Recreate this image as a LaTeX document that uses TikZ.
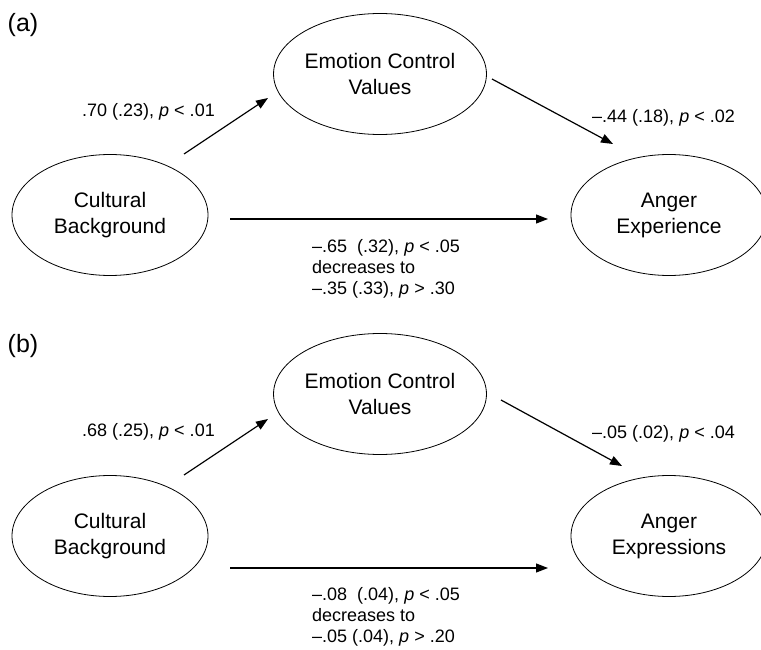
\documentclass[tikz,border=0pt]{standalone}
\usepackage{fontspec}
\setmainfont{Liberation Sans}
\usetikzlibrary{arrows.meta,shapes.geometric}
\begin{document}
\begin{tikzpicture}[x=1pt,y=-1pt,
  latent/.style={ellipse, draw, line width=0.8pt, minimum width=196pt, minimum height=121pt,
    inner sep=0pt, align=center, font=\fontsize{21}{26}\selectfont},
  lbl/.style={font=\fontsize{18}{21}\selectfont, inner sep=0pt, align=left, anchor=west},
  panel/.style={font=\fontsize{25}{30}\selectfont, inner sep=0pt},
  effect/.style={line width=1.2pt, -{Triangle[length=12pt,width=9pt]}}]
\useasboundingbox (0,0) rectangle (761,650);

% ---------- panel (a) ----------
\node[panel] (pa) at (23,25) {(a)};
\node[latent] (cba) at (110,215) {Cultural\\Background};
\node[latent] (ecva) at (380,74) {Emotion Control\\Values};
\node[latent] (aea) at (669,215) {Anger\\Experience};

\coordinate (a1s) at (184,154);
\coordinate (a1e) at (268,98);
\coordinate (a2s) at (492,79);
\coordinate (a2e) at (613,144);
\coordinate (a3s) at (230,219);
\coordinate (a3e) at (548,219);
\draw[effect] (a1s) -- (a1e);
\draw[effect] (a2s) -- (a2e);
\draw[effect] (a3s) -- (a3e);

\node[lbl] (la1) at (82,112) {.70 (.23), \textit{p} < .01};
\node[lbl] (la2) at (592,118) {–.44 (.18), \textit{p} < .02};
\node[lbl] (la3) at (312,269) {–.65\ \ (.32), \textit{p} < .05\\decreases to\\–.35 (.33), \textit{p} > .30};

% ---------- panel (b) ----------
\node[panel] (pb) at (23,346) {(b)};
\node[latent] (cbb) at (110,536) {Cultural\\Background};
\node[latent] (ecvb) at (380,394) {Emotion Control\\Values};
\node[latent] (aeb) at (669,536) {Anger\\Expressions};

\coordinate (b1s) at (184,475);
\coordinate (b1e) at (268,419);
\coordinate (b2s) at (501,400);
\coordinate (b2e) at (622,466);
\coordinate (b3s) at (230,568);
\coordinate (b3e) at (548,568);
\draw[effect] (b1s) -- (b1e);
\draw[effect] (b2s) -- (b2e);
\draw[effect] (b3s) -- (b3e);

\node[lbl] (lb1) at (82,432) {.68 (.25), \textit{p} < .01};
\node[lbl] (lb2) at (592,434) {–.05 (.02), \textit{p} < .04};
\node[lbl] (lb3) at (312,617) {–.08\ \ (.04), \textit{p} < .05\\decreases to\\–.05 (.04), \textit{p} > .20};
\end{tikzpicture}
\end{document}
